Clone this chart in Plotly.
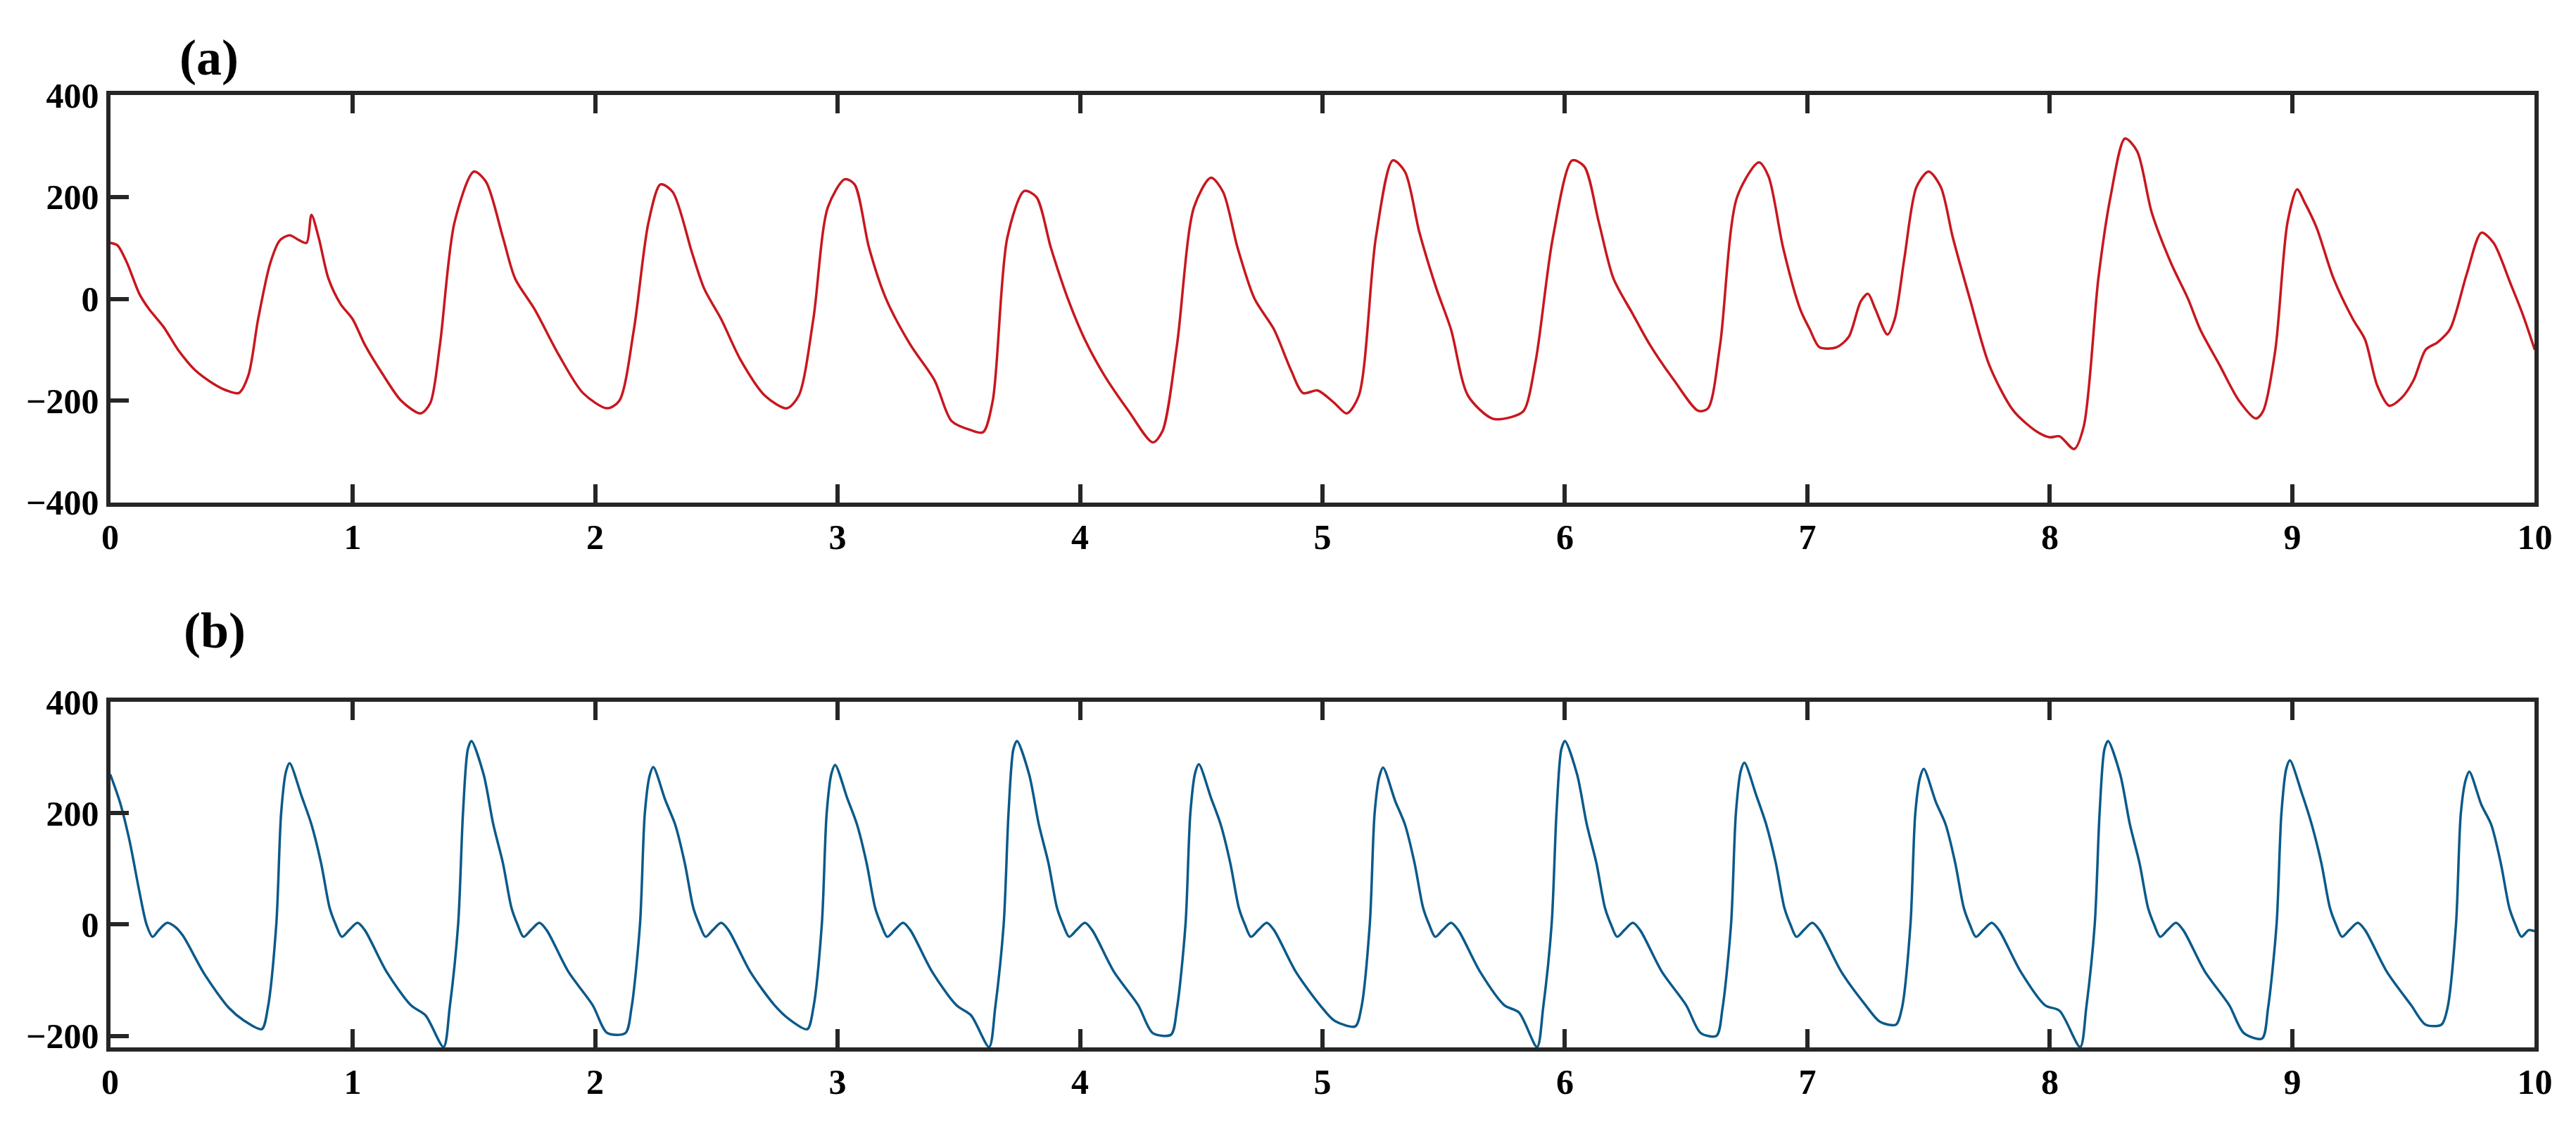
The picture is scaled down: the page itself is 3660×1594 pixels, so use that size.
import plotly.graph_objects as go

a_t = [0, 0.03, 0.07, 0.12, 0.16, 0.22, 0.28, 0.35, 0.42, 0.48, 0.53, 0.57, 0.61, 0.66, 0.70, 0.74,
       0.78, 0.81, 0.83, 0.86, 0.90, 0.95, 1.0, 1.05, 1.12, 1.2, 1.28, 1.32, 1.36, 1.42, 1.5, 1.55,
       1.62, 1.67, 1.75, 1.85, 1.95, 2.05, 2.1, 2.16, 2.22, 2.27, 2.32, 2.4, 2.45, 2.52, 2.6, 2.7,
       2.79, 2.84, 2.9, 2.96, 3.03, 3.07, 3.13, 3.2, 3.3, 3.4, 3.47, 3.55, 3.6, 3.64, 3.7, 3.77,
       3.82, 3.88, 3.95, 4.02, 4.1, 4.2, 4.3, 4.34, 4.4, 4.47, 4.54, 4.59, 4.65, 4.72, 4.8, 4.87,
       4.92, 4.98, 5.05, 5.1, 5.15, 5.22, 5.29, 5.34, 5.4, 5.47, 5.53, 5.6, 5.7, 5.78, 5.83, 5.88,
       5.95, 6.03, 6.08, 6.14, 6.2, 6.28, 6.35, 6.45, 6.55, 6.59, 6.64, 6.71, 6.8, 6.84, 6.9, 6.97,
       7.01, 7.05, 7.12, 7.17, 7.22, 7.25, 7.28, 7.33, 7.36, 7.4, 7.45, 7.5, 7.55, 7.6, 7.67, 7.75,
       7.85, 7.95, 8.0, 8.04, 8.1, 8.14, 8.2, 8.25, 8.31, 8.36, 8.42, 8.5, 8.57, 8.62, 8.7, 8.78,
       8.85, 8.88, 8.93, 8.98, 9.02, 9.05, 9.1, 9.17, 9.25, 9.3, 9.35, 9.4, 9.45, 9.5, 9.55, 9.6,
       9.65, 9.72, 9.78, 9.83, 9.9, 9.95, 10.0]
a_v = [110, 105, 70, 10, -20, -55, -100, -140, -165, -180, -185, -150, -40, 70, 115, 125,
       115, 110, 165, 120, 40, -10, -40, -90, -145, -200, -225, -205, -90, 150, 250, 230,
       120, 40, -20, -110, -185, -215, -200, -60, 150, 225, 210, 90, 20, -40, -120, -190,
       -215, -190, -40, 180, 235, 225, 100, 0, -90, -160, -240, -258, -262, -200, 120, 212,
       200, 100, 0, -80, -150, -220, -282, -260, -90, 180, 238, 210, 100, 0, -60, -140,
       -185, -180, -205, -225, -190, 120, 272, 250, 130, 20, -60, -190, -235, -232, -220, -120,
       120, 272, 260, 150, 40, -30, -90, -160, -220, -215, -90, 200, 268, 240, 100, -20,
       -60, -95, -95, -75, -5, 10, -20, -70, -40, 80, 220, 250, 220, 120, 0, -130,
       -220, -262, -272, -270, -295, -250, 40, 200, 315, 290, 170, 70, 0, -60, -130, -200,
       -235, -220, -100, 150, 215, 190, 140, 40, -40, -80, -170, -210, -195, -160, -100, -85,
       -60, 50, 130, 110, 30, -30, -100]

# ---- Panel (b): reconstructed signal ----
b_head_t = [0, 0.04, 0.08, 0.12, 0.15, 0.175, 0.2, 0.235, 0.27, 0.3, 0.39, 0.49, 0.55]
b_head_v = [270, 220, 150, 60, 0, -22, -10, 3, -5, -20, -90, -150, -172]
beat_peak_time = [0.74, 1.49, 2.24, 2.99, 3.74, 4.49, 5.25, 6.00, 6.74, 7.48, 8.24, 8.99, 9.73]
beat_peak = [290, 330, 283, 287, 330, 288, 282, 330, 291, 280, 330, 295, 275]
beat_trough = [-188, -220, -195, -188, -220, -198, -183, -220, -200, -180, -220, -205, -180]
shape_dt = [-0.115, -0.09, -0.055, -0.035, -0.015, 0, 0.05, 0.09, 0.13, 0.165, 0.19, 0.215, 0.245, 0.28, 0.31, 0.4, 0.5, 0.56]
shape_v = ["T", -150, 0, 200, "H-15", "H", "H-60", 180, 110, 30, 0, -22, -10, 3, -10, -85, -145, "T+25"]

b_t, b_v = list(b_head_t), list(b_head_v)
for p, h, tr in zip(beat_peak_time, beat_peak, beat_trough):
    for dt, sv in zip(shape_dt, shape_v):
        t = round(p + dt, 4)
        if t > 10.0:
            break
        if sv == "T":
            v = tr
        elif sv == "H":
            v = h
        elif sv == "H-15":
            v = h - 15
        elif sv == "H-60":
            v = h - 60
        elif sv == "T+25":
            v = tr + 25
        else:
            v = sv
        b_t.append(t)
        b_v.append(v)
b_t.append(10.0)
b_v.append(-12)

x_ticks = list(range(0, 11))
a_yticks = [-400, -200, 0, 200, 400]
b_yticks = [-200, 0, 200, 400]

W, H = 3660, 1594
FONT = "Liberation Serif"
tickfont = dict(family=FONT, size=50, color="black", weight="bold")

fig = go.Figure()
fig.add_trace(go.Scatter(x=a_t, y=a_v, mode="lines", line=dict(color="#C8171E", width=3.5, shape="spline", smoothing=0.8),
                         xaxis="x", yaxis="y", showlegend=False))
fig.add_trace(go.Scatter(x=b_t, y=b_v, mode="lines", line=dict(color="#0B5A8A", width=3.5, shape="spline", smoothing=0.8),
                         xaxis="x2", yaxis="y2", showlegend=False))

ax = dict(range=[0, 10], tickvals=x_ticks, ticks="inside", ticklen=26, tickwidth=6, tickcolor="#262626",
          showline=True, linewidth=6, linecolor="#262626", mirror="ticks", showgrid=False, zeroline=False,
          tickfont=tickfont)
ay = dict(ticks="inside", ticklen=26, tickwidth=6, tickcolor="#262626", showline=True, linewidth=6,
          linecolor="#262626", mirror=True, showgrid=False, zeroline=False, tickfont=tickfont)

fig.update_layout(
    width=W, height=H, paper_bgcolor="white", plot_bgcolor="white",
    font=dict(family=FONT, size=50, color="black"),
    margin=dict(l=0, r=0, t=0, b=0),
    xaxis=dict(ax, domain=[137 / W, 3618 / W], anchor="y"),
    yaxis=dict(ay, domain=[1 - 703 / H, 1 - 103 / H], range=[-400, 400], tickvals=a_yticks, anchor="x"),
    xaxis2=dict(ax, domain=[137 / W, 3618 / W], anchor="y2"),
    yaxis2=dict(ay, domain=[1 - 1506 / H, 1 - 997 / H], range=[-221, 400], tickvals=b_yticks, anchor="x2"),
    annotations=[
        dict(text="<b>(a)</b>", x=234 / W, y=1 - 48 / H, xref="paper", yref="paper", showarrow=False,
             yanchor="middle", font=dict(family=FONT, size=72, color="black")),
        dict(text="<b>(b)</b>", x=240 / W, y=1 - 892 / H, xref="paper", yref="paper", showarrow=False,
             yanchor="middle", font=dict(family=FONT, size=72, color="black")),
    ],
)
fig.write_html("out.html")
